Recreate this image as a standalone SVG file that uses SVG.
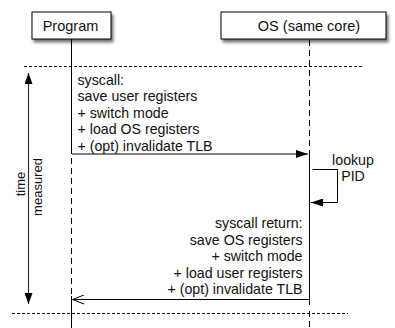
<svg xmlns="http://www.w3.org/2000/svg" width="395" height="328" viewBox="0 0 395 328">
  <style>
    text { font-family: "Liberation Sans", Arial, sans-serif; fill: #111; }
    .box { fill: #fff; stroke: #000; stroke-width: 1; }
    .label { font-size: 14.5px; text-anchor: middle; }
    .body { font-size: 14.2px; }
    .side { font-size: 13px; text-anchor: middle; }
    .solid { stroke: #000; stroke-width: 1; fill: none; }
    .lifedash { stroke: #000; stroke-width: 1; stroke-dasharray: 6 4; fill: none; }
    .bound { stroke: #000; stroke-width: 1; stroke-dasharray: 3 2; fill: none; }
  </style>
  <defs>
    <filter id="shadow" x="-10%" y="-30%" width="130%" height="180%">
      <feGaussianBlur in="SourceAlpha" stdDeviation="1.6"/>
      <feOffset dx="2" dy="3" result="b"/>
      <feComponentTransfer><feFuncA type="linear" slope="0.55"/></feComponentTransfer>
      <feMerge><feMergeNode/><feMergeNode in="SourceGraphic"/></feMerge>
    </filter>
    <marker id="head" viewBox="0 0 12 8" refX="12" refY="4" markerWidth="12" markerHeight="8" markerUnits="userSpaceOnUse" orient="auto">
      <path d="M0,0 L12,4 L0,8 z" fill="#000"/>
    </marker>
    <marker id="timehead" viewBox="0 0 11 8" refX="11" refY="4" markerWidth="11" markerHeight="8" markerUnits="userSpaceOnUse" orient="auto-start-reverse">
      <path d="M0,0 L11,4 L0,8 z" fill="#000"/>
    </marker>
    <marker id="openhead" viewBox="0 0 12 10" refX="11.5" refY="5" markerWidth="12" markerHeight="10" markerUnits="userSpaceOnUse" orient="auto">
      <path d="M0,0.5 L11.5,5 L0,9.5" fill="none" stroke="#000" stroke-width="1"/>
    </marker>
  </defs>

  <!-- participants -->
  <g id="program">
    <rect class="box" x="32" y="12" width="79" height="27" filter="url(#shadow)"/>
    <text class="label" x="70.5" y="30.5">Program</text>
  </g>
  <g id="os">
    <rect class="box" x="221" y="12" width="165" height="27" filter="url(#shadow)"/>
    <text class="label" x="309" y="30.5">OS (same core)</text>
  </g>

  <!-- lifelines -->
  <g id="lifelines">
    <line class="solid" x1="71.5" y1="39" x2="71.5" y2="154"/>
    <line class="lifedash" x1="71.5" y1="158" x2="71.5" y2="296"/>
    <line class="solid" x1="71.5" y1="296" x2="71.5" y2="328"/>
    <line class="lifedash" x1="309.5" y1="40" x2="309.5" y2="154"/>
    <line class="solid" x1="309.5" y1="154" x2="309.5" y2="305"/>
    <line class="lifedash" x1="309.5" y1="311" x2="309.5" y2="328"/>
  </g>

  <!-- measurement window -->
  <g id="window">
    <line class="bound" x1="24" y1="66.5" x2="362" y2="66.5"/>
    <line class="bound" x1="12" y1="313.5" x2="348" y2="313.5"/>
  </g>

  <g id="time-measured">
    <text class="side" transform="translate(24.5,184) rotate(-90)">time</text>
    <text class="side" transform="translate(41.5,187) rotate(-90)">measured</text>
  </g>

  <!-- messages -->
  <g id="connectors">
    <line x1="28.5" y1="73" x2="28.5" y2="304" stroke="#333" stroke-width="1.2" marker-start="url(#timehead)" marker-end="url(#timehead)"/>
    <line class="solid" x1="72" y1="154" x2="308" y2="154" marker-end="url(#head)"/>
    <path class="solid" d="M312.5,169.5 H337.5 V202.5 H311" marker-end="url(#head)"/>
    <line class="solid" x1="309" y1="299.5" x2="72.5" y2="299.5" marker-end="url(#openhead)"/>
  </g>

  <g id="syscall-label">
    <text class="body" x="77.5" y="84.5">syscall:</text>
    <text class="body" x="77.5" y="101">save user registers</text>
    <text class="body" x="77.5" y="117.5">+ switch mode</text>
    <text class="body" x="77.5" y="134">+ load OS registers</text>
    <text class="body" x="77.5" y="150.5">+ (opt) invalidate TLB</text>
  </g>

  <g id="lookup-label">
    <text class="body" x="353" y="165" text-anchor="middle">lookup</text>
    <text class="body" x="353" y="181" text-anchor="middle">PID</text>
  </g>

  <g id="return-label" text-anchor="end">
    <text class="body" x="302.5" y="228">syscall return:</text>
    <text class="body" x="302.5" y="244.5">save OS registers</text>
    <text class="body" x="302.5" y="261">+ switch mode</text>
    <text class="body" x="302.5" y="277.5">+ load user registers</text>
    <text class="body" x="302.5" y="294">+ (opt) invalidate TLB</text>
  </g>
</svg>
